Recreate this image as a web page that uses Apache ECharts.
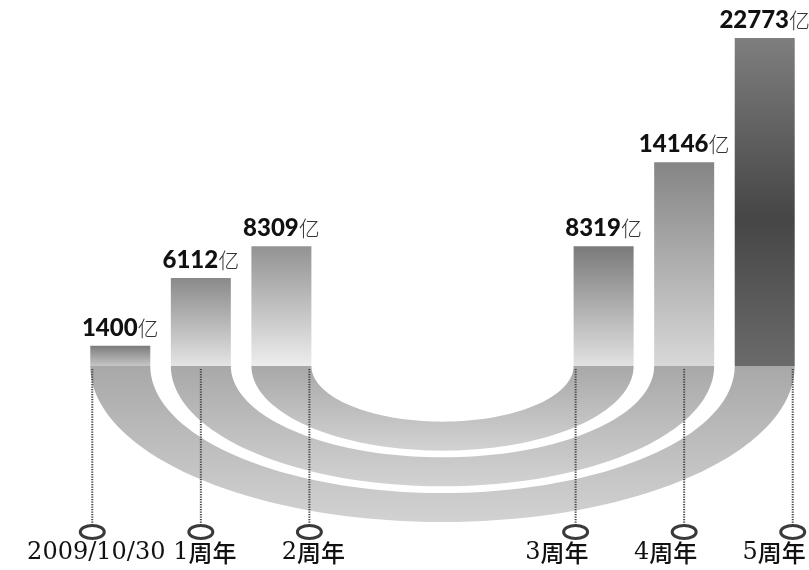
<!DOCTYPE html>
<html><head><meta charset="utf-8">
<script src="https://cdn.jsdelivr.net/npm/echarts/dist/echarts.min.js"></script>
<style>html,body{margin:0;padding:0;background:#fff}#c{width:809px;height:570px}</style>
</head><body><div id="c"></div>
<script>
// ---- data ----
const categories = ['2009/10/30', '1周年', '2周年', '3周年', '4周年', '5周年'];
const values = [1400, 6112, 8309, 8319, 14146, 22773];
const unit = '亿';

// ---- layout helpers (not data) ----
const GAP_SLOTS = 3;
const BAR_W = 60;
const half = categories.length / 2;
const slotCats = [...categories.slice(0, half), ...Array(GAP_SLOTS).fill(''), ...categories.slice(half)];
const slotOf = i => (i < half ? i : i + GAP_SLOTS);

const barColors = [
  [[0, '#7c7c7c'], [1, '#c6c6c6']],
  [[0, '#8a8a8a'], [1, '#e4e4e4']],
  [[0, '#939393'], [1, '#ededed']],
  [[0, '#7a7a7a'], [1, '#e2e2e2']],
  [[0, '#858585'], [1, '#d8d8d8']],
  [[0, '#7e7e7e'], [0.55, '#464646'], [1, '#6a6a6a']]
];
const grad = stops => new echarts.graphic.LinearGradient(0, 0, 0, 1, stops.map(s => ({offset: s[0], color: s[1]})));

const barData = slotCats.map(() => '-');
values.forEach((v, i) => {
  barData[slotOf(i)] = {value: v, itemStyle: {color: grad(barColors[i])}};
});

const arcData = [];
for (let i = 0; i < half; i++) arcData.push([slotOf(i), 0, slotOf(categories.length - 1 - i)]);

const markerAlign = [-1, 0, 1, -1, 0, 1];
const markerData = categories.map((c, i) => [slotOf(i), 0, i]);

const chart = echarts.init(document.getElementById('c'));
chart.setOption({
  animation: false,
  backgroundColor: '#fff',
  grid: {left: 80, right: 4, top: 38, bottom: 204},
  xAxis: {type: 'category', data: slotCats, show: false},
  yAxis: {type: 'value', min: 0, max: e => e.max, show: false},
  series: [
    {
      type: 'custom', z: 1, silent: true,
      encode: {x: 0, y: 1},
      data: arcData,
      renderItem: (params, api) => {
        const pl = api.coord([api.value(0), 0]);
        const pr = api.coord([api.value(2), 0]);
        const cx = (pl[0] + pr[0]) / 2, cy = pl[1];
        const Rx = (pr[0] - pl[0]) / 2 + BAR_W / 2, rx = Rx - BAR_W;
        const Ry = Rx * 0.443, ry = Ry - 29;
        const pts = [];
        const N = 80;
        for (let k = 0; k <= N; k++) { const t = Math.PI - Math.PI * k / N; pts.push([cx + Rx * Math.cos(t), cy + Ry * Math.sin(t)]); }
        for (let k = 0; k <= N; k++) { const t = Math.PI * k / N; pts.push([cx + rx * Math.cos(t), cy + ry * Math.sin(t)]); }
        return {
          type: 'polygon', shape: {points: pts},
          style: {fill: new echarts.graphic.LinearGradient(0, cy, 0, cy + Ry, [{offset: 0, color: '#a8a8a8'}, {offset: 1, color: '#d2d2d2'}], true)}
        };
      }
    },
    {
      type: 'bar', z: 2, barWidth: BAR_W,
      data: barData,
      label: {
        show: true, position: 'top', distance: 6,
        formatter: p => '{n|' + p.value + '}{u|' + unit + '}',
        rich: {
          n: {fontFamily: 'Lato', fontWeight: 900, fontSize: 24, color: '#111'},
          u: {fontFamily: 'Noto Sans CJK SC', fontWeight: 300, fontSize: 21, color: '#333'}
        }
      }
    },
    {
      type: 'custom', z: 3, silent: true,
      encode: {x: 0, y: 1},
      data: markerData,
      renderItem: (params, api) => {
        const idx = api.value(2);
        const base = api.coord([api.value(0), 0]);
        const x = base[0] + markerAlign[idx] * (BAR_W / 2 - 2);
        const label = categories[idx];
        const m = label.match(/^([0-9\/]+)(.*)$/);
        const txt = '{d|' + m[1] + '}' + (m[2] ? '{c|' + m[2] + '}' : '');
        const right = idx >= half;
        return {
          type: 'group',
          children: [
            {type: 'line', shape: {x1: x, y1: base[1] + 3, x2: x, y2: 525}, style: {stroke: '#444', lineWidth: 2, lineDash: [1.2, 1.3]}},
            {type: 'ellipse', shape: {cx: x, cy: 532, rx: 12, ry: 6.5}, style: {fill: '#fff', stroke: '#3a3a3a', lineWidth: 3}},
            {type: 'text', style: {
              x: right ? x + 13 : x + 4, y: 553, text: txt,
              align: right ? 'right' : 'center', verticalAlign: 'middle',
              rich: {
                d: {fontFamily: 'DejaVu Serif', fontSize: 24, fill: '#111', fontWeight: 'normal'},
                c: {fontFamily: 'Noto Sans CJK SC', fontSize: 24, fill: '#111', fontWeight: 500}
              }
            }}
          ]
        };
      }
    }
  ]
});
</script>
</body></html>
